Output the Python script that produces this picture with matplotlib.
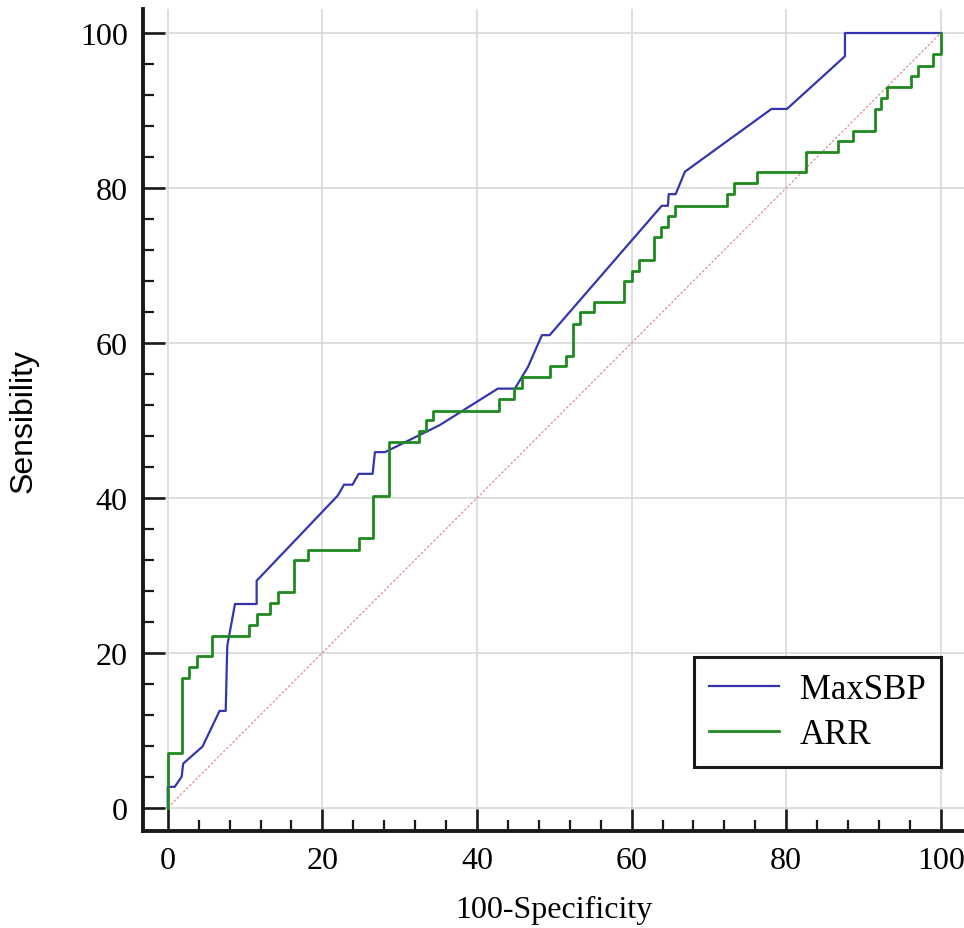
import matplotlib
matplotlib.use("Agg")
import matplotlib.pyplot as plt
from matplotlib.ticker import MultipleLocator

# MaxSBP ROC curve vertices (100-Specificity, Sensibility)
maxsbp_x = [0, 0, 0.9, 1.8, 2.0, 4.5, 6.7, 7.5, 7.7, 8.7, 11.5, 11.5, 22.0, 22.8, 23.9,
            24.7, 26.5, 26.8, 28.1, 35.2, 42.7, 44.9, 46.6, 48.4, 49.4, 63.9, 64.7,
            64.8, 65.7, 66.9, 78.1, 80.1, 87.6, 87.6, 100]
maxsbp_y = [0, 2.7, 2.7, 4.0, 5.7, 7.9, 12.5, 12.5, 20.9, 26.3, 26.3, 29.3, 40.3, 41.7, 41.7,
            43.1, 43.1, 45.9, 45.9, 49.4, 54.1, 54.1, 56.9, 61.0, 61.0, 77.7, 77.7,
            79.2, 79.2, 82.1, 90.2, 90.2, 97.0, 100, 100]

# ARR ROC curve: x where the step happens, sensibility after the step
arr_x = [0, 0, 1.8, 2.8, 3.8, 5.7, 10.5, 11.5, 13.2, 14.2, 16.3, 18.1, 24.7, 26.6, 28.6,
         32.5, 33.4, 34.3, 42.8, 44.8, 45.8, 49.5, 51.5, 52.4, 53.3, 55.2, 59.0, 60.0,
         60.9, 62.9, 63.8, 64.7, 65.6, 72.3, 73.3, 76.2, 82.5, 86.7, 88.6, 91.5, 92.2,
         93.1, 96.2, 97.0, 99.0, 100]
arr_y = [0, 7.1, 16.8, 18.2, 19.6, 22.2, 23.6, 25.0, 26.4, 27.8, 32.0, 33.3, 34.8, 40.3, 47.2,
         48.6, 50.0, 51.2, 52.8, 54.2, 55.6, 57.0, 58.3, 62.5, 64.0, 65.3, 68.0, 69.3,
         70.7, 73.7, 75.0, 76.4, 77.7, 79.2, 80.6, 82.1, 84.6, 86.1, 87.4, 90.2, 91.6,
         93.0, 94.4, 95.7, 97.3, 100]

ref_line = [0, 100]

plt.rcParams['font.family'] = ['Liberation Serif', 'DejaVu Serif']

fig = plt.figure(figsize=(9.64, 9.29), dpi=100)
ax = fig.add_axes([143 / 964, (929 - 832) / 929, 821 / 964, 822 / 929])

ax.grid(True, which='major', color='#d8d8d8', linewidth=1.2)
ax.set_axisbelow(True)

ax.plot(ref_line, ref_line, color='#dc8f95', linewidth=0.9, linestyle=(0, (2, 1.5)))
ax.plot(maxsbp_x, maxsbp_y, color='#3535b0', linewidth=1.6, label='MaxSBP')
ax.plot(arr_x, arr_y, color='#1f8a1f', linewidth=2.0, drawstyle='steps-post', label='ARR')

ax.set_xlim(-3.2, 103.0)
ax.set_ylim(-3.0, 103.1)
ax.xaxis.set_major_locator(MultipleLocator(20))
ax.yaxis.set_major_locator(MultipleLocator(20))
ax.xaxis.set_minor_locator(MultipleLocator(4))
ax.yaxis.set_minor_locator(MultipleLocator(4))
ax.tick_params(which='major', direction='in', length=16, width=1.9, color='#1a1a1a',
               labelsize=23, pad=11)
ax.tick_params(which='minor', direction='in', length=8, width=1.6, color='#1a1a1a')

for side in ['top', 'right']:
    ax.spines[side].set_visible(False)
for side in ['left', 'bottom']:
    ax.spines[side].set_linewidth(2.8)
    ax.spines[side].set_color('#1a1a1a')

ax.set_xlabel('100-Specificity', fontsize=23, labelpad=14)
ax.set_ylabel('Sensibility', fontsize=23, labelpad=30,
              family=['Liberation Sans Narrow', 'Liberation Sans', 'DejaVu Sans'])

leg = ax.legend(loc='lower right', bbox_to_anchor=(0.972, 0.078), borderaxespad=0,
                fontsize=25, fancybox=False, framealpha=1, edgecolor='#1a1a1a',
                handlelength=2.0, handletextpad=0.6, labelspacing=0.35, borderpad=0.45)
leg.get_frame().set_linewidth(2.2)

fig.savefig('out.png', dpi=100)
